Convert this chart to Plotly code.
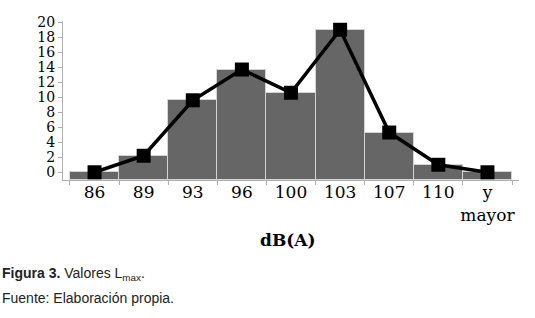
import plotly.graph_objects as go

categories = ["86", "89", "93", "96", "100", "103", "107", "110", "y<br>mayor"]
bar_values = [0, 2.2, 9.6, 13.7, 10.6, 19, 5.3, 1, 0]
line_values = [0, 2.2, 9.6, 13.7, 10.6, 19, 5.3, 1, 0]
y_ticks = [0, 2, 4, 6, 8, 10, 12, 14, 16, 18, 20]

Y_MIN, Y_MAX = -1.03, 20.17
SERIF = "DejaVu Serif, Liberation Serif, serif"
SANS = "Liberation Sans Narrow, Liberation Sans, Arial, sans-serif"

fig = go.Figure()
fig.add_trace(go.Bar(
    x=categories,
    y=[v - Y_MIN for v in bar_values],
    base=[Y_MIN] * len(bar_values),
    marker=dict(color="#666666", line=dict(color="#d4d4d4", width=1)),
    showlegend=False,
    hoverinfo="skip",
))
fig.add_trace(go.Scatter(
    x=categories,
    y=line_values,
    mode="lines+markers",
    line=dict(color="black", width=3.5),
    marker=dict(symbol="square", size=14, color="black"),
    showlegend=False,
))

fig.update_layout(
    width=535, height=318,
    margin=dict(l=63, r=16, t=21, b=138),
    paper_bgcolor="white", plot_bgcolor="white",
    bargap=0,
    font=dict(family=SERIF, color="black"),
    xaxis=dict(
        type="category",
        automargin=False,
        tickangle=0,
        showline=True, linecolor="#b0b0b0", linewidth=1,
        ticks="outside", tickson="boundaries", ticklen=4, tickcolor="#b0b0b0",
        ticklabelstandoff=-3,
        tickfont=dict(family=SERIF, size=17, color="black"),
        showgrid=False, zeroline=False,
    ),
    yaxis=dict(
        range=[Y_MIN, Y_MAX],
        automargin=False,
        tickvals=y_ticks,
        showline=True, linecolor="#b0b0b0", linewidth=1,
        ticks="outside", ticklen=4, tickcolor="#b0b0b0",
        tickfont=dict(family=SERIF, size=14, color="black"),
        showgrid=False, zeroline=False,
    ),
    annotations=[
        dict(text="<b>dB(A)</b>", xref="paper", yref="paper",
             x=(288 - 63) / 456, y=-(240 - 180) / 159, xanchor="center", yanchor="middle",
             showarrow=False, font=dict(family=SERIF, size=17, color="black")),
        dict(text="<b>Figura 3.</b> Valores L<sub>max</sub>.", xref="paper", yref="paper",
             x=-63 / 456, y=-(274 - 180) / 159, xanchor="left", yanchor="middle",
             showarrow=False,
             font=dict(family=SANS, size=14, color="#222222")),
        dict(text="Fuente: Elaboración propia.", xref="paper", yref="paper",
             x=-63 / 456, y=-(298 - 180) / 159, xanchor="left", yanchor="middle",
             showarrow=False,
             font=dict(family=SANS, size=14, color="#222222")),
    ],
)

fig.write_html("out.html", config={"displayModeBar": False},
               post_script="document.body.style.margin='0';")
